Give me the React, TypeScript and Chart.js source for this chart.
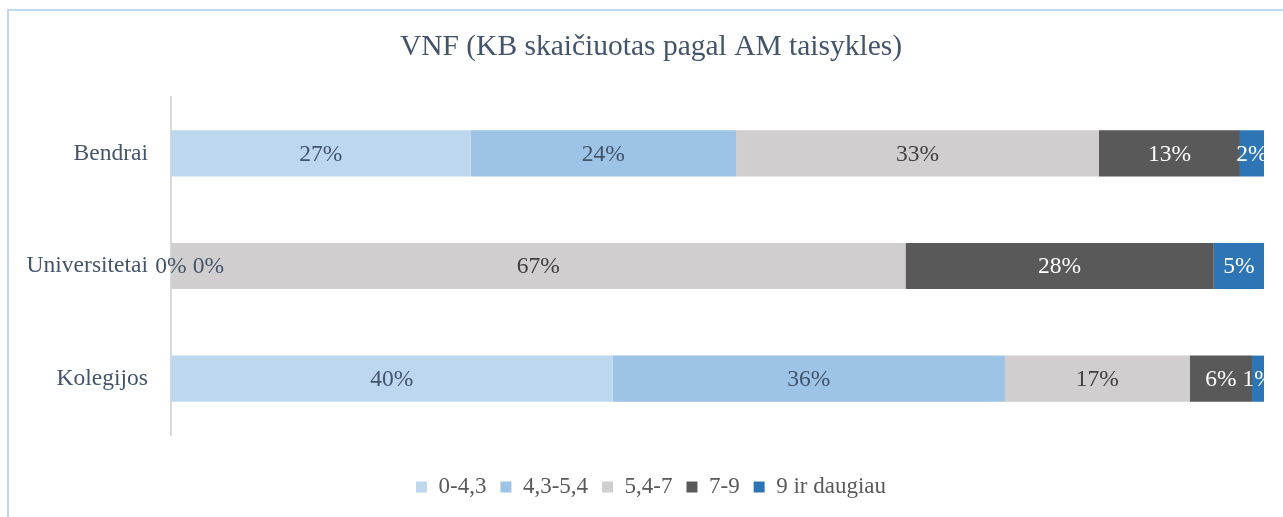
import React, { useEffect, useRef } from "react";
import { Chart, registerables } from "chart.js";

Chart.register(...registerables);

const categories = ["Bendrai", "Universitetai", "Kolegijos"];
const seriesNames = ["0-4,3", "4,3-5,4", "5,4-7", "7-9", "9 ir daugiau"];
const s0 = [27.4, 0, 40.4];
const s1 = [24.3, 0, 35.9];
const s2 = [33.2, 67.2, 16.9];
const s3 = [12.9, 28.2, 5.7];
const s4 = [2.2, 4.6, 1.1];
const seriesValues = [s0, s1, s2, s3, s4];
const seriesColors = ["#BDD7EE", "#9DC3E6", "#D0CECE", "#595959", "#2E75B6"];
const labelColors = ["#44546A", "#44546A", "#404040", "#FFFFFF", "#FFFFFF"];
const titleText = "VNF (KB skaičiuotas pagal AM taisykles)";

const FONT = "'Liberation Serif', 'Times New Roman', serif";

const labelPlugin = {
  id: "stackLabels",
  afterDatasetsDraw(chart: any) {
    const ctx = chart.ctx;
    const area = chart.chartArea;
    ctx.save();
    ctx.beginPath();
    ctx.rect(0, 0, area.right, chart.height);
    ctx.clip();
    ctx.font = `23.5px ${FONT}`;
    ctx.textAlign = "center";
    ctx.textBaseline = "middle";
    const n = categories.length;
    for (let i = 0; i < n; i++) {
      let lastRight = -Infinity;
      chart.data.datasets.forEach((ds: any, di: number) => {
        const meta = chart.getDatasetMeta(di);
        const el = meta.data[i];
        if (!el) return;
        const v = ds.data[i];
        const txt = Math.round(v) + "%";
        const w = ctx.measureText(txt).width;
        const props = el.getProps(["x", "y", "base"], true);
        let cx = (props.x + props.base) / 2;
        if (cx - w / 2 < lastRight + 6) cx = lastRight + 6 + w / 2;
        lastRight = cx + w / 2;
        ctx.fillStyle = labelColors[di];
        ctx.fillText(txt, cx, props.y + 1);
      });
    }
    ctx.restore();
  },
};

export default function App() {
  const ref = useRef<HTMLCanvasElement | null>(null);
  useEffect(() => {
    if (!ref.current) return;
    const chart = new Chart(ref.current, {
      type: "bar",
      data: {
        labels: categories,
        datasets: seriesValues.map((vals, i) => ({
          label: seriesNames[i],
          data: vals,
          backgroundColor: seriesColors[i],
          borderWidth: 0,
          barPercentage: 0.41,
          categoryPercentage: 1,
        })),
      },
      options: {
        indexAxis: "y",
        responsive: false,
        animation: false,
        devicePixelRatio: 1,
        layout: { padding: { left: 0, right: 0, top: 0, bottom: 8.5 } },
        scales: {
          x: {
            type: "linear",
            stacked: true,
            min: 0,
            max: 100,
            grid: { display: false, drawTicks: false },
            border: { display: false },
            ticks: { display: false },
            afterFit: (s: any) => {
              s.height = 26.5;
            },
          },
          y: {
            type: "category",
            stacked: true,
            grid: { display: false, drawTicks: false },
            border: { display: true, color: "#D9D9D9", width: 2 },
            ticks: {
              font: { family: FONT, size: 23.5 },
              color: "#44546A",
              padding: 23,
            },
            afterFit: (s: any) => {
              s.width = 162;
            },
          },
          y2: {
            type: "category",
            position: "right",
            labels: categories,
            grid: { display: false, drawTicks: false },
            border: { display: false },
            ticks: { display: false },
            afterFit: (s: any) => {
              s.width = 29;
            },
          },
        },
        plugins: {
          title: {
            display: true,
            text: titleText,
            color: "#44546A",
            font: { family: FONT, size: 29.5, weight: "normal" },
            padding: { top: 18.8, bottom: 31.8 },
          },
          legend: {
            display: true,
            position: "bottom",
            labels: {
              boxWidth: 11,
              boxHeight: 11,
              padding: 14,
              color: "#595959",
              font: { family: FONT, size: 23 },
            },
          },
          tooltip: { enabled: false },
        },
      } as any,
      plugins: [labelPlugin],
    });
    return () => chart.destroy();
  }, []);

  return (
    <div
      style={{
        position: "fixed",
        left: 0,
        top: 0,
        width: 1283,
        height: 517,
        overflow: "hidden",
        background: "#FFFFFF",
      }}
    >
      <div
        style={{
          position: "absolute",
          left: 7,
          top: 9,
          borderLeft: "2px solid #BDD7EE",
          borderTop: "2px solid #BDD7EE",
        }}
      >
        <canvas ref={ref} width={1284} height={506} style={{ display: "block", width: 1284, height: 506 }} />
      </div>
    </div>
  );
}
